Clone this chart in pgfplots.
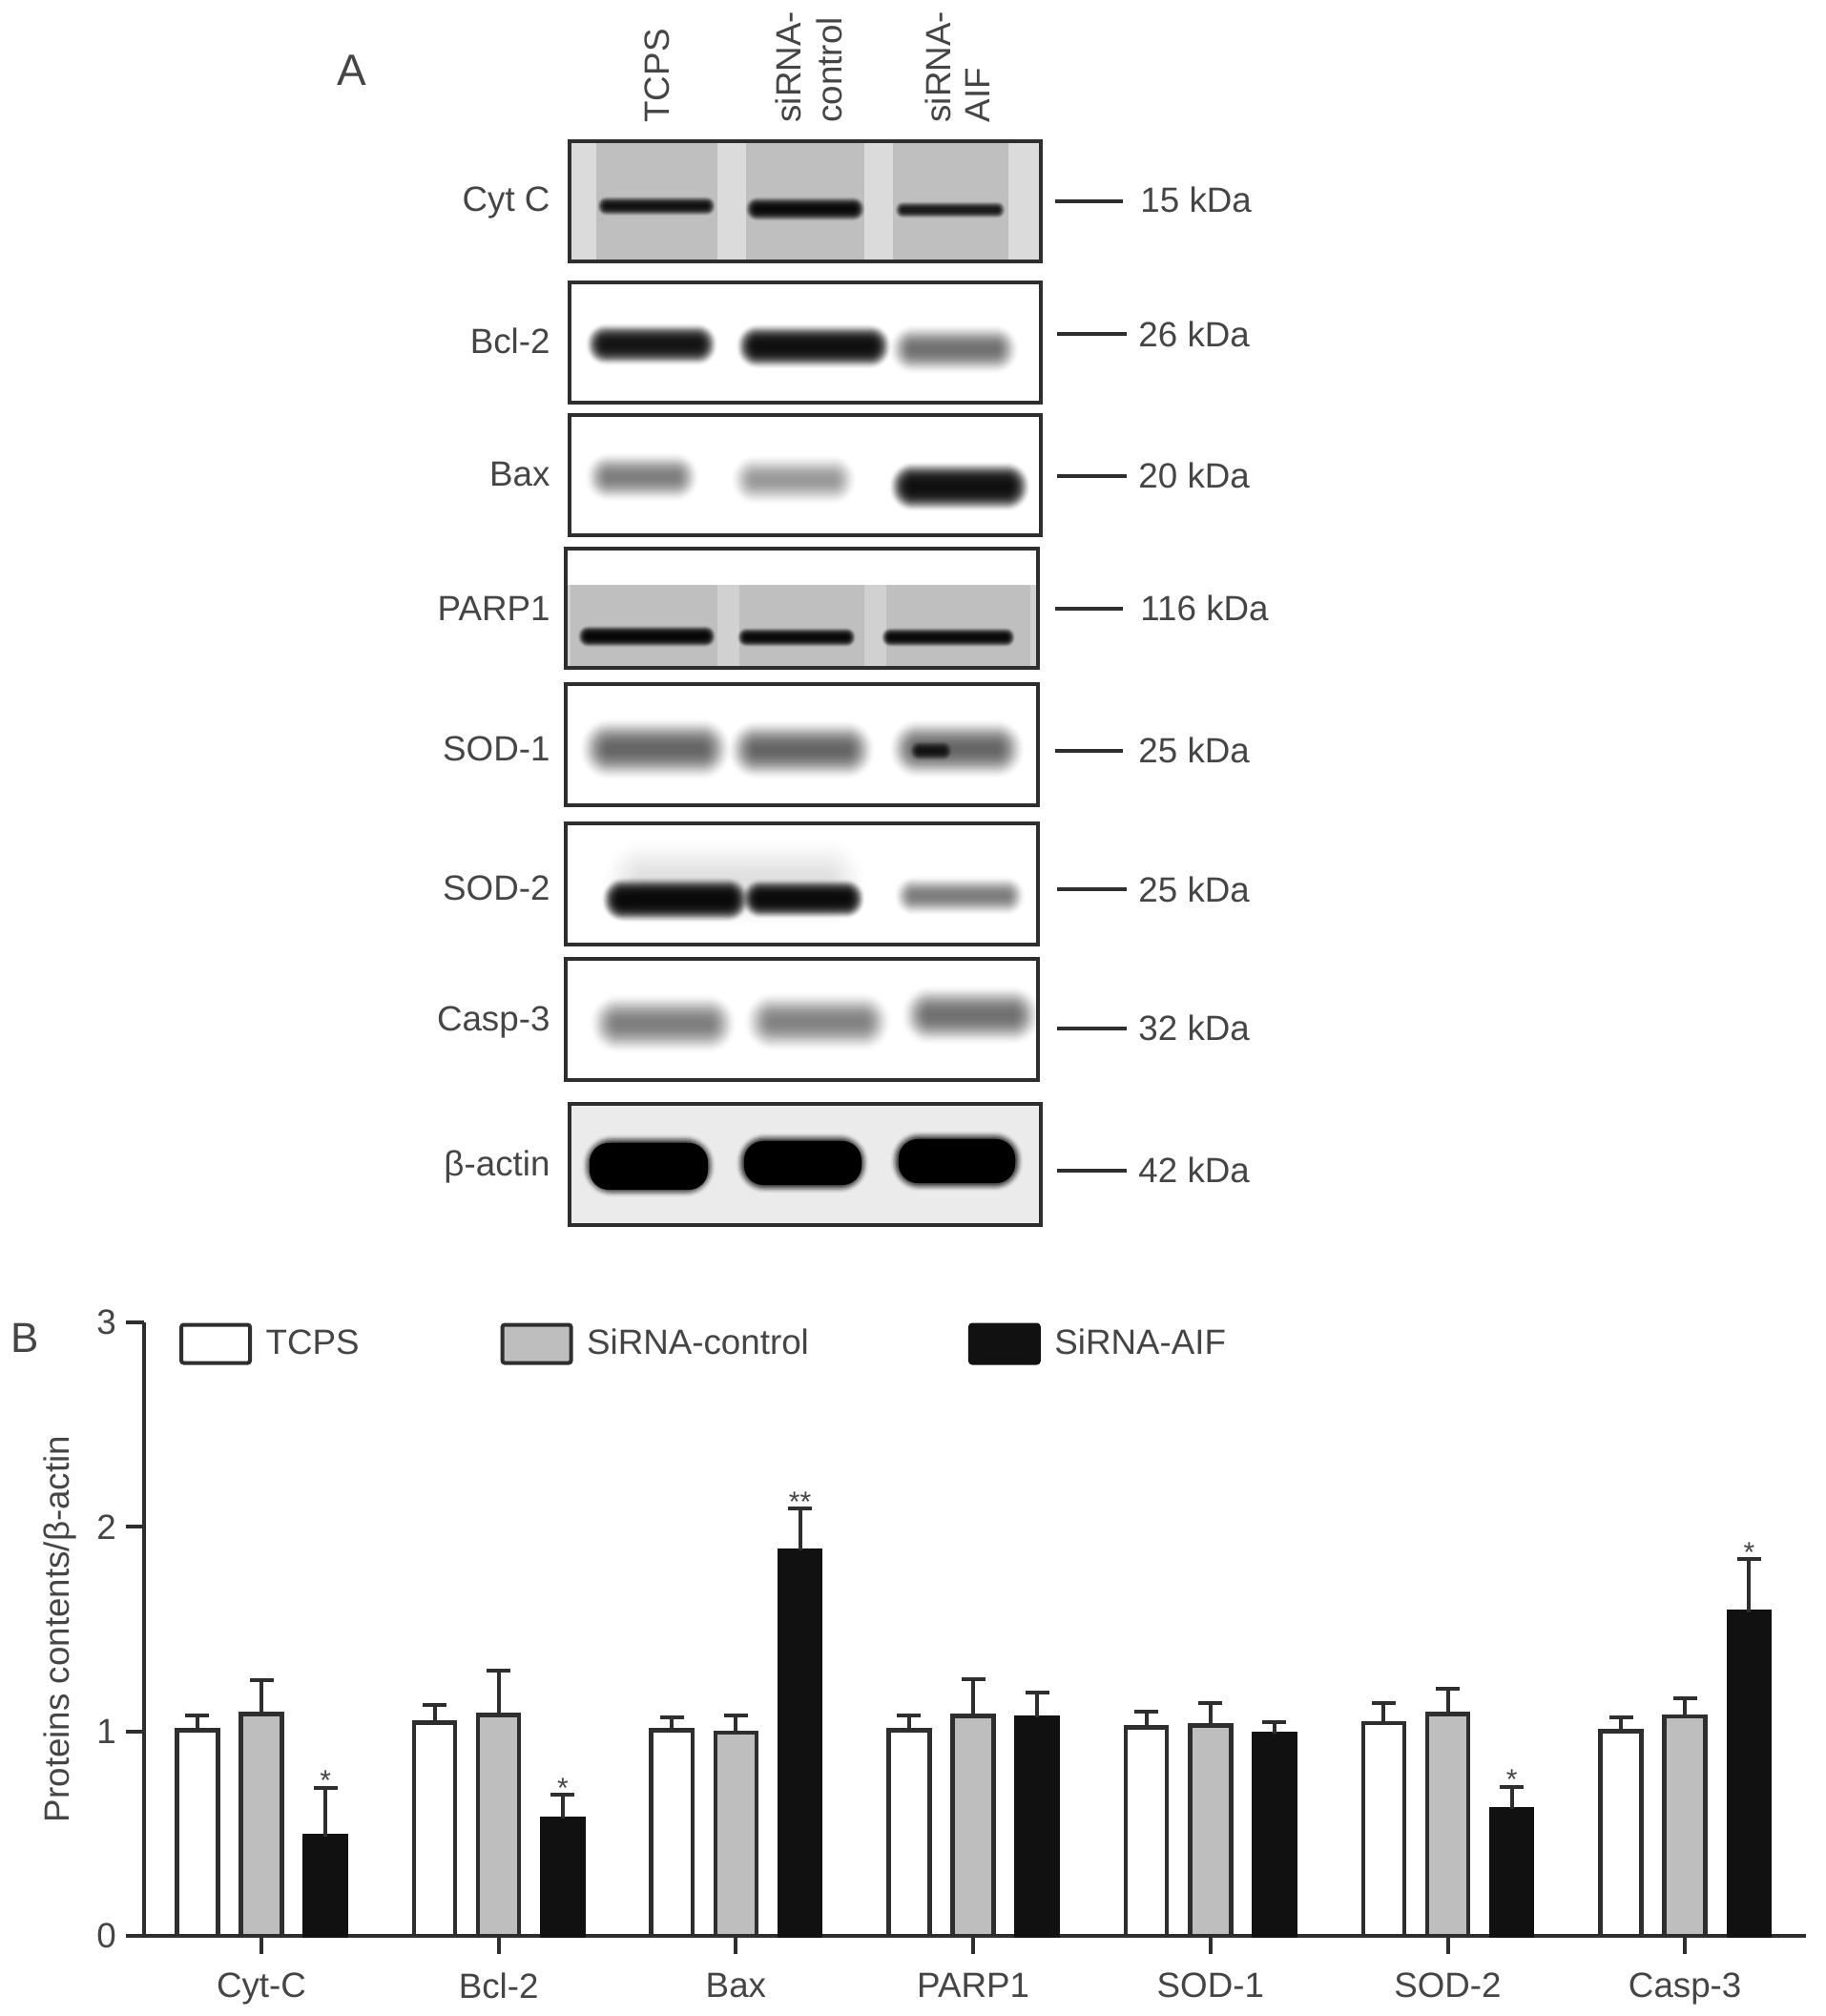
\documentclass[border=0pt]{standalone}
\usepackage{fontspec}
\setmainfont{Liberation Sans}
\usepackage{pgfplots}
\usepackage{pgfplotstable}
\pgfplotsset{compat=1.18}
\definecolor{txt}{HTML}{454545}
\definecolor{ln}{HTML}{2E2E2E}
\definecolor{greybar}{HTML}{BEBEBE}
\definecolor{blackbar}{HTML}{111111}

% x  value  error
\pgfplotstableread{
x y e
0 1.005 0.075
1 1.044 0.086
2 1.005 0.062
3 1.005 0.073
4 1.020 0.077
5 1.040 0.098
6 1.002 0.065
}\tcps
\pgfplotstableread{
x y e
0 1.085 0.165
1 1.080 0.217
2 0.993 0.085
3 1.076 0.179
4 1.030 0.108
5 1.085 0.125
6 1.074 0.086
}\sicontrol
\pgfplotstableread{
x y e
0 0.487 0.237
1 0.575 0.115
2 1.885 0.205
3 1.067 0.121
4 0.990 0.056
5 0.620 0.109
6 1.584 0.257
}\siaif

\newcommand{\txtsize}{\fontsize{14.7}{15}\selectfont}

% soft band: cx cy half-width half-height opacity
\newcommand{\band}[5]{%
  \foreach \i in {1,...,24}{%
    \pgfmathsetmacro{\t}{1-(\i-0.5)/24}%
    \pgfmathsetmacro{\hy}{#4*1.35*\t}%
    \pgfmathsetmacro{\hx}{#3+0.35*#4-#4*1.35*(1-\t)}%
    \pgfmathsetmacro{\rr}{\hy*0.4*0.95}%
    \pgfmathsetmacro{\aa}{#5*0.654*sin(180*\t)}%
    \fill[black,opacity=\aa,rounded corners=\rr pt]
      ({#1-\hx},{#2-\hy}) rectangle ({#1+\hx},{#2+\hy});
  }}
\newcommand{\frm}[4]{\draw[ln,line width=1.6pt] (#1,#3) rectangle (#2,#4);}
\newcommand{\rowlab}[5]{% label, label centre y, marker y, marker x0, x1
  \node[anchor=base east,inner sep=0,text=txt,font=\txtsize] at (577,#2+13) {#1};
  \draw[ln,line width=1.5pt] (#4,#3) -- (#5,#3);
}
\newcommand{\kda}[3]{\node[anchor=west,inner sep=0,text=txt,font=\txtsize] at (#1,#2) {#3};}

\pgfplotsset{
  barsty/.style={draw=#1,line width=1.8pt,
    legend image code/.code={\draw[##1,line width=1.6pt,rounded corners=1pt] (0pt,-8pt) rectangle (28.8pt,8pt);}},
}

\begin{document}
\begin{tikzpicture}
\path[use as bounding box] (0,0) rectangle (765.2pt,-845.2pt);

\begin{scope}[x=0.4pt,y=-0.4pt]
% panel letters
\node[anchor=center,inner sep=0,text=txt,font=\fontsize{18.4}{19}\selectfont] at (369,74) {A};
\node[anchor=center,inner sep=0,text=txt,font=\fontsize{17.6}{18}\selectfont] at (26,1402) {B};

% column headings
\foreach \xx/\ss in {689/TCPS,826/siRNA-,869/control,983/siRNA-,1024.5/AIF}{
  \node[rotate=90,anchor=west,inner sep=0,text=txt,font=\txtsize] at (\xx,129) {\ss};
}

% Cyt C
\fill[black!14] (597,148) rectangle (1091,274);
\fill[black!25] (625,150) rectangle (752,272);
\fill[black!25] (782,150) rectangle (906,272);
\fill[black!25] (936,150) rectangle (1057,272);
\band{688}{216}{60}{8}{0.20}
\band{844}{219}{60}{10}{0.24}
\band{996}{220}{56}{7}{0.17}
\frm{597}{1091}{148}{274}
% Bcl-2
\band{683}{361}{64}{17}{0.24}
\band{853}{363}{76}{18}{0.26}
\band{1000}{366}{62}{20}{0.08}
\frm{597}{1091}{296}{422}
% Bax
\band{673}{500}{54}{20}{0.07}
\band{832}{503}{60}{20}{0.05}
\band{1006}{510}{68}{20}{0.26}
\frm{597}{1091}{435}{561}
% PARP1
\fill[black!18] (593,613) rectangle (1088,700);
\fill[black!25] (598,613) rectangle (752,698);
\fill[black!25] (775,613) rectangle (906,698);
\fill[black!25] (929,613) rectangle (1080,698);
\band{678}{667}{70}{9}{0.26}
\band{835}{668}{60}{8}{0.24}
\band{994}{668}{68}{8}{0.24}
\frm{593}{1088}{575}{700}
% SOD-1
\band{687}{785}{72}{25}{0.09}
\band{840}{786}{70}{24}{0.09}
\band{1003}{785}{64}{24}{0.09}
\band{976}{787}{20}{8}{0.16}
\frm{593}{1088}{717}{844}
% SOD-2
\band{770}{925}{130}{38}{0.012}
\band{708}{943}{72}{18}{0.30}
\band{842}{942}{60}{16}{0.28}
\band{1006}{939}{64}{16}{0.07}
\frm{593}{1088}{863}{990}
% Casp-3
\band{695}{1073}{70}{24}{0.07}
\band{857}{1071}{70}{24}{0.065}
\band{1018}{1064}{66}{24}{0.08}
\frm{593}{1088}{1005}{1132}
% beta-actin
\fill[black!8] (597,1157) rectangle (1091,1284);
\band{680}{1222}{62}{25}{0.60}
\band{841}{1219}{62}{24}{0.60}
\band{1003}{1217}{62}{24}{0.60}
\fill[black,rounded corners=8pt] (618,1198) rectangle (742,1247);
\fill[black,rounded corners=8pt] (780,1196) rectangle (903,1242);
\fill[black,rounded corners=8pt] (942,1194) rectangle (1064,1240);
\frm{597}{1091}{1157}{1284}

% row labels and size markers
\rowlab{Cyt C}{209}{211}{1106}{1177}
\rowlab{Bcl-2}{358}{350}{1108}{1181}
\rowlab{Bax}{497}{499}{1108}{1181}
\rowlab{PARP1}{638}{638}{1106}{1177}
\rowlab{SOD-1}{785}{787}{1106}{1177}
\rowlab{SOD-2}{931}{932}{1108}{1181}
\rowlab{Casp-3}{1068}{1078}{1108}{1181}
\rowlab{β-actin}{1220}{1227}{1108}{1181}
\kda{1195}{209}{15 kDa}
\kda{1193}{350}{26 kDa}
\kda{1193}{498}{20 kDa}
\kda{1195}{637}{116 kDa}
\kda{1193}{786}{25 kDa}
\kda{1193}{932}{25 kDa}
\kda{1193}{1077}{32 kDa}
\kda{1193}{1226}{42 kDa}
\end{scope}

\begin{axis}[
  at={(60.4pt,-811.6pt)},anchor=south west,
  scale only axis,width=696.8pt,height=257.2pt,
  xmin=-0.4946,xmax=6.51,ymin=0,ymax=3,
  axis x line=bottom,axis y line=left,
  axis line style={-,line width=1.6pt,color=ln},
  xtick={0,1,2,3,4,5,6},
  xticklabels={Cyt-C,Bcl-2,Bax,PARP1,SOD-1,SOD-2,Casp-3},
  ytick={0,1,2,3},
  tick align=outside,major tick length=7.6pt,
  tick style={line width=1.6pt,color=ln},
  tick label style={font=\txtsize,text=txt,/pgf/number format/assume math mode=true},
  x tick label style={yshift=-4.4pt},
  y tick label style={xshift=-0.5pt},
  ylabel={Proteins contents/β-actin},
  ylabel style={font=\txtsize,text=txt,yshift=1.6pt},
  ybar,bar width=0.173,
  legend columns=3,
  legend style={at={(0.0210,1.0)},anchor=north west,draw=none,fill=none,inner sep=0pt,
    font=\txtsize,text=txt,/tikz/every even column/.append style={column sep=0pt}},
  legend cell align=left,
  error bars/error bar style={line width=1.6pt,color=ln},
  error bars/error mark options={rotate=90,line width=1.6pt,mark size=5pt,color=ln},
  clip=false,
]
\addplot[barsty=ln,fill=white,bar shift=-0.27,
  error bars/.cd,y dir=plus,y explicit]
  table[x=x,y=y,y error=e]{\tcps};
\addlegendentry{\hspace*{3.8pt}TCPS\hspace*{57.2pt}}
\addplot[barsty=ln,fill=greybar,bar shift=0,
  error bars/.cd,y dir=plus,y explicit]
  table[x=x,y=y,y error=e]{\sicontrol};
\addlegendentry{\hspace*{3.8pt}SiRNA-control\hspace*{64.8pt}}
\addplot[barsty=blackbar,fill=blackbar,bar shift=0.27,
  error bars/.cd,y dir=plus,y explicit]
  table[x=x,y=y,y error=e]{\siaif};
\addlegendentry{\hspace*{3.8pt}SiRNA-AIF}

\foreach \xx/\yy/\ss in {0.27/0.724/*,1.27/0.690/*,2.27/2.090/{**},5.27/0.729/*,6.27/1.841/*}{
  \edef\temp{\noexpand\node[anchor=base,inner sep=0,yshift=-1.2pt,text=txt,font=\noexpand\fontsize{12}{12}\noexpand\selectfont] at (axis cs:\xx,\yy) {\ss};}
  \temp
}
\end{axis}
\end{tikzpicture}
\end{document}
